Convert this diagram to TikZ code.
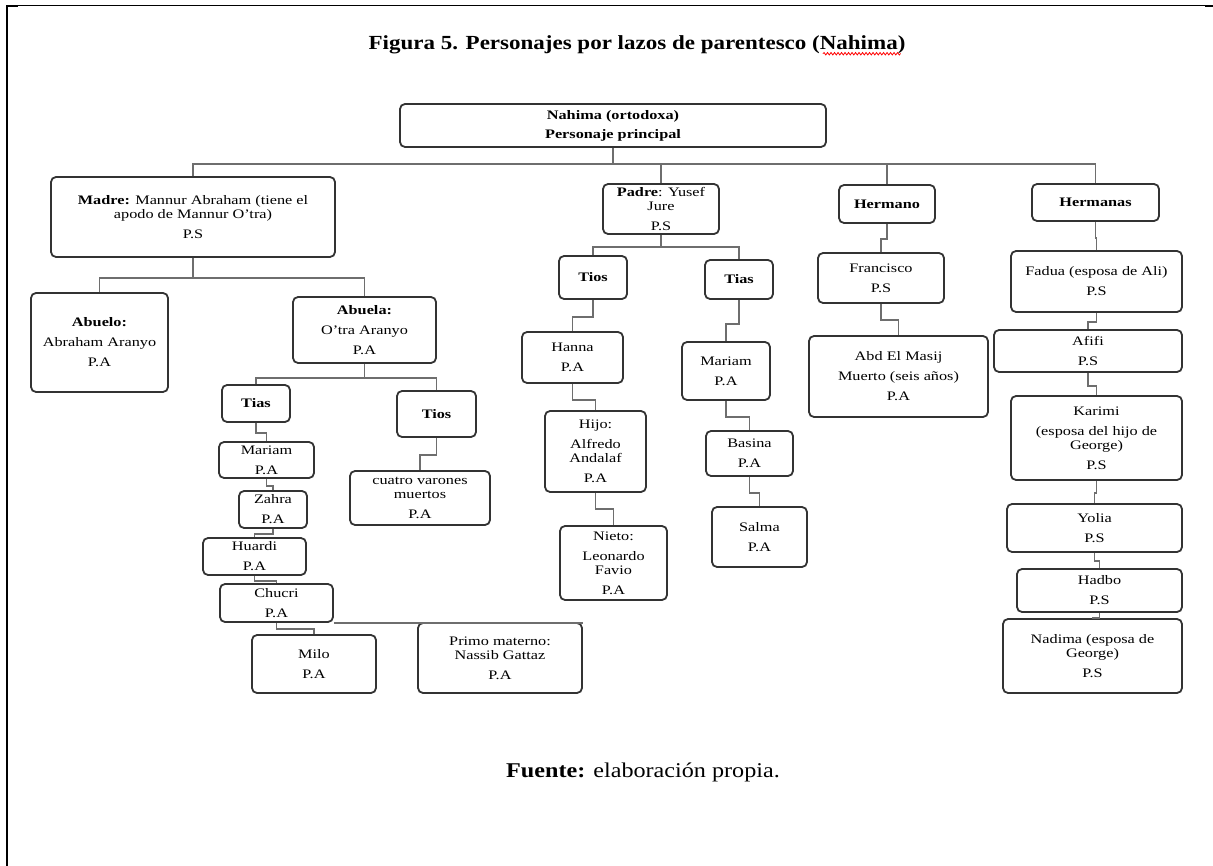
\documentclass[tikz,border=0pt]{standalone}
\usepackage{fontspec}
\newfontfamily\boxfont{Liberation Serif}[FakeStretch=1.25]
\newfontfamily\headfont{Liberation Serif}[FakeStretch=1.15]
\usetikzlibrary{decorations.pathmorphing}
\definecolor{boxline}{HTML}{333333}
\definecolor{linkgray}{HTML}{6E6E6E}
\begin{document}
\begin{tikzpicture}[x=1pt,y=-1pt,
  box/.style={draw=boxline, line width=1.8pt, rounded corners=5pt, fill=white,
    align=center, inner sep=0pt, font=\boxfont\fontsize{13}{14}\selectfont},
  link/.style={draw=linkgray, line width=1.4pt},
  frame/.style={draw=black, line width=1pt}]
\useasboundingbox (0,0) rectangle (1213,866);

% page frame
\draw[frame] (7,866) -- (7,6) -- (1210,6);
\draw[frame, line width=2pt] (7,866) -- (7,6) -- (18,6);
\draw[frame, line width=2pt] (1205,6) -- (1213,6);

% heading
\node[font=\headfont\bfseries\fontsize{20}{24}\selectfont] (title) at (637,45)
  {Figura 5. Personajes por lazos de parentesco (Nahima)};
\draw[red, line width=0.8pt, decorate, decoration={snake, amplitude=1.2pt, segment length=3.5pt}]
  ([xshift=-86pt,yshift=-4pt]title.base east) -- ([xshift=-8pt,yshift=-4pt]title.base east);

% root
\node[box, minimum width=426, minimum height=43] (root) at (613,125.5)
  {\textbf{Nahima (ortodoxa)}\\[5pt]\textbf{Personaje principal}};

% mother's side
\node[box, minimum width=284, minimum height=80] (madre) at (193,217)
  {\textbf{Madre:} Mannur Abraham (tiene el\\apodo de Mannur O’tra)\\[6pt]P.S};
\node[box, minimum width=137, minimum height=99] (abuelo) at (99.5,342.5)
  {\textbf{Abuelo:}\\[6pt]Abraham Aranyo\\[6pt]P.A};
\node[box, minimum width=143, minimum height=66] (abuela) at (364.5,330)
  {\textbf{Abuela:}\\[6pt]O’tra Aranyo\\[6pt]P.A};
\node[box, minimum width=68, minimum height=37] (tiasM) at (256,403.5) {\textbf{Tias}};
\node[box, minimum width=79, minimum height=46] (tiosM) at (436.5,414) {\textbf{Tios}};
\node[box, minimum width=140, minimum height=54] (cuatro) at (420,498)
  {cuatro varones\\muertos\\[6pt]P.A};
\node[box, minimum width=95, minimum height=36] (mariamM) at (266.5,460) {Mariam\\[6pt]P.A};
\node[box, minimum width=68, minimum height=37] (zahra) at (273,509.5) {Zahra\\[6pt]P.A};
\node[box, minimum width=103, minimum height=37] (huardi) at (254.5,556.5) {Huardi\\[6pt]P.A};
\node[box, minimum width=113, minimum height=38] (chucri) at (276.5,603) {Chucri\\[6pt]P.A};
\node[box, minimum width=124, minimum height=58] (milo) at (314,664) {Milo\\[6pt]P.A};
\node[box, minimum width=164, minimum height=70] (primo) at (500,658)
  {Primo materno:\\Nassib Gattaz\\[6pt]P.A};

% father's side
\node[box, minimum width=116, minimum height=50] (padre) at (661,209)
  {\textbf{Padre}: Yusef\\Jure\\[6pt]P.S};
\node[box, minimum width=68, minimum height=43] (tiosP) at (593,277.5) {\textbf{Tios}};
\node[box, minimum width=68, minimum height=39] (tiasP) at (739,279.5) {\textbf{Tias}};
\node[box, minimum width=101, minimum height=51] (hanna) at (572.5,357.5) {Hanna\\[6pt]P.A};
\node[box, minimum width=101, minimum height=81] (hijo) at (595.5,451.5)
  {Hijo:\\[6pt]Alfredo\\Andalaf\\[6pt]P.A};
\node[box, minimum width=107, minimum height=74] (nieto) at (613.5,563)
  {Nieto:\\[6pt]Leonardo\\Favio\\[6pt]P.A};
\node[box, minimum width=88, minimum height=58] (mariamP) at (726,371) {Mariam\\[6pt]P.A};
\node[box, minimum width=87, minimum height=45] (basina) at (749.5,453.5) {Basina\\[6pt]P.A};
\node[box, minimum width=95, minimum height=60] (salma) at (759.5,537) {Salma\\[6pt]P.A};

% brother
\node[box, minimum width=96, minimum height=38] (hermano) at (887,204) {\textbf{Hermano}};
\node[box, minimum width=126, minimum height=50] (francisco) at (881,278) {Francisco\\[6pt]P.S};
\node[box, minimum width=179, minimum height=81] (abd) at (898.5,376.5)
  {Abd El Masij\\[6pt]Muerto (seis años)\\[6pt]P.A};

% sisters
\node[box, minimum width=127, minimum height=37] (hermanas) at (1095.5,202.5) {\textbf{Hermanas}};
\node[box, minimum width=171, minimum height=61] (fadua) at (1096.5,281.5)
  {Fadua (esposa de Ali)\\[6pt]P.S};
\node[box, minimum width=188, minimum height=42] (afifi) at (1088,351) {Afifi\\[6pt]P.S};
\node[box, minimum width=171, minimum height=84] (karimi) at (1096.5,438)
  {Karimi\\[6pt](esposa del hijo de\\George)\\[6pt]P.S};
\node[box, minimum width=175, minimum height=48] (yolia) at (1094.5,528) {Yolia\\[6pt]P.S};
\node[box, minimum width=165, minimum height=43] (hadbo) at (1099.5,590.5) {Hadbo\\[6pt]P.S};
\node[box, minimum width=179, minimum height=74] (nadima) at (1092.5,656)
  {Nadima (esposa de\\George)\\[6pt]P.S};

% connectors
\foreach \c in {madre,padre,hermano,hermanas}
  \draw[link] (root.south) -- ++(0,16) -| (\c.north);
\foreach \c in {abuelo,abuela}
  \draw[link] (madre.south) -- ++(0,20) -| (\c.north);
\foreach \c in {tiasM,tiosM}
  \draw[link] (abuela.south) -- ++(0,14) -| (\c.north);
\draw[link] (tiosM.south) -- ++(0,17) -| (cuatro.north);
\draw[link] (tiasM.south) -- ++(0,10) -| (mariamM.north);
\draw[link] (mariamM.south) -- ++(0,7) -| (zahra.north);
\draw[link] (zahra.south) -- ++(0,5) -| (huardi.north);
\draw[link] (huardi.south) -- ++(0,5) -| (chucri.north);
\draw[link] (chucri.south) -- ++(0,6) -| (milo.north);
\draw[link] (chucri.south east) -- (chucri.south east -| primo.north east);
\foreach \c in {tiosP,tiasP}
  \draw[link] (padre.south) -- ++(0,12) -| (\c.north);
\draw[link] (tiosP.south) -- ++(0,17) -| (hanna.north);
\draw[link] (hanna.south) -- ++(0,16) -| (hijo.north);
\draw[link] (hijo.south) -- ++(0,16) -| (nieto.north);
\draw[link] (tiasP.south) -- ++(0,24) -| (mariamP.north);
\draw[link] (mariamP.south) -- ++(0,16) -| (basina.north);
\draw[link] (basina.south) -- ++(0,16) -| (salma.north);
\draw[link] (hermano.south) -- ++(0,15) -| (francisco.north);
\draw[link] (francisco.south) -- ++(0,16) -| (abd.north);
\draw[link] (hermanas.south) -- ++(0,16) -| (fadua.north);
\draw[link] (fadua.south) -- ++(0,9) -| (afifi.north);
\draw[link] (afifi.south) -- ++(0,13) -| (karimi.north);
\draw[link] (karimi.south) -- ++(0,12) -| (yolia.north);
\draw[link] (yolia.south) -- ++(0,8) -| (hadbo.north);
\draw[link] (hadbo.south) -- ++(0,5) -| (nadima.north);

% source line
\node[font=\headfont\fontsize{21}{24}\selectfont] (src) at (643,772)
  {\textbf{Fuente:} elaboración propia.};
\end{tikzpicture}
\end{document}
